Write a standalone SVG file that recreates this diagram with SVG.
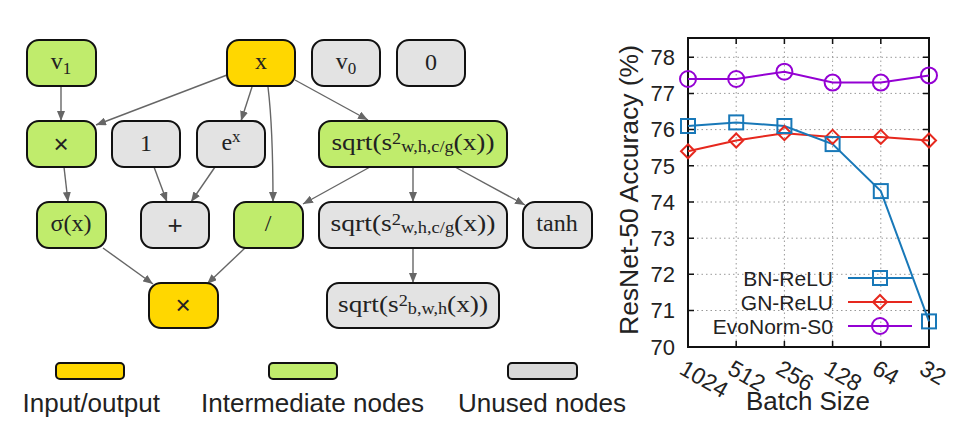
<svg xmlns="http://www.w3.org/2000/svg" width="966" height="436" viewBox="0 0 966 436">
<style>
.nd{stroke:#111;stroke-width:2}
.io{fill:#ffd700}
.im{fill:#c0ec6c}
.un{fill:#e3e3e3}
.t{font-family:"Liberation Serif","Times New Roman",serif;font-size:24px;fill:#222;text-anchor:middle}
.op{font-family:"Liberation Sans",Arial,sans-serif;font-size:26px;fill:#222;text-anchor:middle}
.e{fill:none;stroke:#666;stroke-width:1.4}
.s{font-family:"Liberation Sans",Arial,sans-serif;fill:#222}
.grid{stroke:#999;stroke-width:1;stroke-dasharray:1.5,3}
.tick{stroke:#111;stroke-width:1.5}
.bn{stroke:#1878b8}
.gn{stroke:#e6281e}
.ev{stroke:#9400d3}
.ln{fill:none;stroke-width:2}
</style>
<defs>
<marker id="ah" viewBox="0 0 10 8" refX="10" refY="4" markerWidth="10" markerHeight="8" markerUnits="userSpaceOnUse" orient="auto"><path d="M0,0 L10,4 L0,8 z" fill="#666"/></marker>
<rect id="sq" x="-7" y="-7" width="14" height="14" fill="none" stroke-width="2"/>
<path id="dm" d="M0,-7 L7,0 L0,7 L-7,0 Z" fill="none" stroke-width="2"/>
<circle id="ci" r="8" fill="none" stroke-width="2"/>
</defs>
<rect width="966" height="436" fill="#fff"/>

<g id="connectors">
<path class="e" marker-end="url(#ah)" d="M61,86 L61,121"/>
<path class="e" marker-end="url(#ah)" d="M227,75 L96,125"/>
<path class="e" marker-end="url(#ah)" d="M252,87 L241,121"/>
<path class="e" marker-end="url(#ah)" d="M268,87 C272,120 273,160 273,202"/>
<path class="e" marker-end="url(#ah)" d="M295,80 L368,120"/>
<path class="e" marker-end="url(#ah)" d="M64,167 L68,202"/>
<path class="e" marker-end="url(#ah)" d="M154,167 L167,202"/>
<path class="e" marker-end="url(#ah)" d="M215,167 L191,202"/>
<path class="e" marker-end="url(#ah)" d="M370,167 L303,204"/>
<path class="e" marker-end="url(#ah)" d="M413,167 L413,202"/>
<path class="e" marker-end="url(#ah)" d="M455,167 L525,205"/>
<path class="e" marker-end="url(#ah)" d="M103,248 L153,284"/>
<path class="e" marker-end="url(#ah)" d="M245,248 L207,284"/>
<path class="e" marker-end="url(#ah)" d="M413,248 L413,283"/>
</g>

<g id="n-v1"><rect class="nd im" x="27" y="40" width="69" height="46" rx="12"/><text class="t" x="61" y="69">v<tspan font-size="17" dy="5">1</tspan></text></g>
<g id="n-x"><rect class="nd io" x="227" y="40" width="68" height="46" rx="12"/><text class="t" x="261" y="69">x</text></g>
<g id="n-v0"><rect class="nd un" x="312" y="40" width="68" height="46" rx="12"/><text class="t" x="346" y="69">v<tspan font-size="17" dy="5">0</tspan></text></g>
<g id="n-zero"><rect class="nd un" x="397" y="40" width="68" height="46" rx="12"/><text class="t" x="431" y="70">0</text></g>
<g id="n-mul1"><rect class="nd im" x="27" y="121" width="69" height="46" rx="12"/><text class="op" x="61" y="153">×</text></g>
<g id="n-one"><rect class="nd un" x="112" y="121" width="68" height="46" rx="12"/><text class="t" x="146" y="151">1</text></g>
<g id="n-exp"><rect class="nd un" x="197" y="121" width="68" height="46" rx="12"/><text class="t" x="231" y="150">e<tspan font-size="17" dy="-8">x</tspan></text></g>
<g id="n-sqrt1"><rect class="nd im" x="319" y="121" width="188" height="46" rx="12"/><text class="t" x="413" y="150" textLength="163" lengthAdjust="spacingAndGlyphs">sqrt(s<tspan font-size="16" dy="-6">2</tspan><tspan font-size="16" dy="8">w,h,c/g</tspan><tspan dy="-2">(x))</tspan></text></g>
<g id="n-sigma"><rect class="nd im" x="37" y="202" width="69" height="46" rx="12"/><text class="t" x="71" y="231">σ(x)</text></g>
<g id="n-plus"><rect class="nd un" x="141" y="202" width="68" height="46" rx="12"/><text class="op" x="175" y="234">+</text></g>
<g id="n-div"><rect class="nd im" x="234" y="202" width="69" height="46" rx="12"/><text class="t" x="268" y="231">/</text></g>
<g id="n-sqrt2"><rect class="nd un" x="319" y="202" width="188" height="46" rx="12"/><text class="t" x="413" y="231" textLength="165" lengthAdjust="spacingAndGlyphs">sqrt(s<tspan font-size="16" dy="-6">2</tspan><tspan font-size="16" dy="8">w,h,c/g</tspan><tspan dy="-2">(x))</tspan></text></g>
<g id="n-tanh"><rect class="nd un" x="523" y="202" width="69" height="46" rx="12"/><text class="t" x="557" y="231">tanh</text></g>
<g id="n-mul2"><rect class="nd io" x="149" y="283" width="69" height="45" rx="12"/><text class="op" x="183" y="314">×</text></g>
<g id="n-sqrt3"><rect class="nd un" x="327" y="283" width="172" height="45" rx="12"/><text class="t" x="413" y="312" textLength="150" lengthAdjust="spacingAndGlyphs">sqrt(s<tspan font-size="16" dy="-6">2</tspan><tspan font-size="16" dy="8">b,w,h</tspan><tspan dy="-2">(x))</tspan></text></g>

<g id="legend">
<rect x="56" y="363" width="68" height="16" rx="4" fill="#ffd700" stroke="#111" stroke-width="2"/>
<rect x="269" y="363" width="68" height="16" rx="4" fill="#c0ec6c" stroke="#111" stroke-width="2"/>
<rect x="508" y="363" width="69" height="16" rx="4" fill="#d8d8d8" stroke="#111" stroke-width="2"/>
<text class="s" x="22.5" y="411.5" font-size="26" textLength="137.5" lengthAdjust="spacingAndGlyphs">Input/output</text>
<text class="s" x="201" y="411.5" font-size="26" textLength="223" lengthAdjust="spacingAndGlyphs">Intermediate nodes</text>
<text class="s" x="458" y="411.5" font-size="26" textLength="168" lengthAdjust="spacingAndGlyphs">Unused nodes</text>
</g>

<g id="chart">
<g class="grid">
<path d="M688,310.5H929M688,274.3H929M688,238.2H929M688,202H929M688,165.8H929M688,129.6H929M688,93.4H929M688,57.3H929"/>
<path d="M736.2,38V347M784.4,38V347M832.6,38V347M880.8,38V347"/>
</g>
<g class="tick">
<path d="M688,310.5h6M688,274.3h6M688,238.2h6M688,202h6M688,165.8h6M688,129.6h6M688,93.4h6M688,57.3h6"/>
<path d="M929,310.5h-6M929,274.3h-6M929,238.2h-6M929,202h-6M929,165.8h-6M929,129.6h-6M929,93.4h-6M929,57.3h-6"/>
<path d="M736.2,347v-6M784.4,347v-6M832.6,347v-6M880.8,347v-6"/>
<path d="M736.2,38v6M784.4,38v6M832.6,38v6M880.8,38v6"/>
</g>
<rect x="688" y="38" width="241" height="309" fill="none" stroke="#111" stroke-width="2"/>
<g class="s" font-size="22" text-anchor="end">
<text x="675" y="354.5">70</text>
<text x="675" y="318.3">71</text>
<text x="675" y="282.1">72</text>
<text x="675" y="246">73</text>
<text x="675" y="209.8">74</text>
<text x="675" y="173.6">75</text>
<text x="675" y="137.4">76</text>
<text x="675" y="101.2">77</text>
<text x="675" y="65.1">78</text>
</g>
<g class="s" font-size="23">
<text transform="translate(678,373) rotate(30)">1024</text>
<text transform="translate(726.2,373) rotate(30)">512</text>
<text transform="translate(774.4,373) rotate(30)">256</text>
<text transform="translate(822.6,373) rotate(30)">128</text>
<text transform="translate(870.8,373) rotate(30)">64</text>
<text transform="translate(918,373) rotate(30)">32</text>
</g>
<text class="s" font-size="25" x="808" y="410" text-anchor="middle" textLength="124" lengthAdjust="spacingAndGlyphs">Batch Size</text>
<text class="s" font-size="25" transform="translate(638,190) rotate(-90)" text-anchor="middle" textLength="290" lengthAdjust="spacingAndGlyphs">ResNet-50 Accuracy (%)</text>

<polyline class="ln ev" points="688,79 736.2,79 784.4,71.7 832.6,82.6 880.8,82.6 929,75.4"/>
<polyline class="ln gn" points="688,151.3 736.2,140.5 784.4,133.2 832.6,136.9 880.8,136.9 929,140.5"/>
<polyline class="ln bn" points="688,126 736.2,122.4 784.4,126 832.6,144.1 880.8,191.1 929,321.4"/>
<g class="ev">
<use href="#ci" x="688" y="79"/><use href="#ci" x="736.2" y="79"/><use href="#ci" x="784.4" y="71.7"/><use href="#ci" x="832.6" y="82.6"/><use href="#ci" x="880.8" y="82.6"/><use href="#ci" x="929" y="75.4"/>
</g>
<g class="gn">
<use href="#dm" x="688" y="151.3"/><use href="#dm" x="736.2" y="140.5"/><use href="#dm" x="784.4" y="133.2"/><use href="#dm" x="832.6" y="136.9"/><use href="#dm" x="880.8" y="136.9"/><use href="#dm" x="929" y="140.5"/>
</g>
<g class="bn">
<use href="#sq" x="688" y="126"/><use href="#sq" x="736.2" y="122.4"/><use href="#sq" x="784.4" y="126"/><use href="#sq" x="832.6" y="144.1"/><use href="#sq" x="880.8" y="191.1"/><use href="#sq" x="929" y="321.4"/>
</g>
<g id="chart-legend">
<g class="s" font-size="21" text-anchor="end">
<text x="833" y="285.5">BN-ReLU</text>
<text x="833" y="309.5">GN-ReLU</text>
<text x="833" y="333.5">EvoNorm-S0</text>
</g>
<path class="ln bn" d="M848,278H912"/><use class="bn" href="#sq" x="880" y="278"/>
<path class="ln gn" d="M848,302H912"/><use class="gn" href="#dm" x="880" y="302"/>
<path class="ln ev" d="M848,326H912"/><use class="ev" href="#ci" x="880" y="326"/>
</g>
</g>
</svg>
